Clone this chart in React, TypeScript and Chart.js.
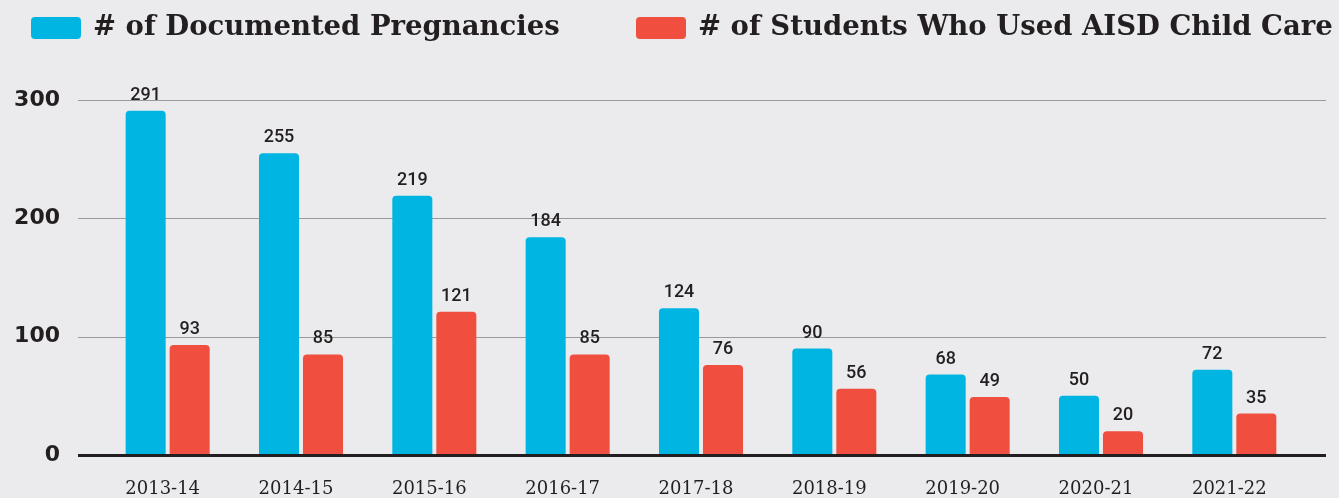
import React, { useEffect, useRef } from "react";
import { Chart, registerables } from "chart.js";

Chart.register(...registerables);

const categories = ["2013-14", "2014-15", "2015-16", "2016-17", "2017-18", "2018-19", "2019-20", "2020-21", "2021-22"];
const pregnancies = [291, 255, 219, 184, 124, 90, 68, 50, 72];
const childCare = [93, 85, 121, 85, 76, 56, 49, 20, 35];
const yTicks = [0, 100, 200, 300];
const seriesNames = ["# of Documented Pregnancies", "# of Students Who Used AISD Child Care"];

const BLUE = "#00b5e2";
const RED = "#f04e3e";
const INK = "#231f20";
const BG = "#ebebed";

const LEGEND_BOX_X = [31, 636];

const gridPlugin = {
  id: "customGrid",
  beforeDatasetsDraw(chart: any) {
    const { ctx, scales } = chart;
    const y = scales.y;
    ctx.save();
    yTicks.forEach((v) => {
      if (v === 0) return;
      const py = Math.round(y.getPixelForValue(v));
      ctx.beginPath();
      ctx.strokeStyle = "#9a9a9a";
      ctx.lineWidth = 1;
      ctx.moveTo(78, py + 0.5);
      ctx.lineTo(1326, py + 0.5);
      ctx.stroke();
    });
    ctx.restore();
  },
  afterDatasetsDraw(chart: any) {
    const { ctx, scales } = chart;
    const py = scales.y.getPixelForValue(0);
    ctx.save();
    ctx.beginPath();
    ctx.strokeStyle = INK;
    ctx.lineWidth = 3;
    ctx.moveTo(78, py + 0.5);
    ctx.lineTo(1326, py + 0.5);
    ctx.stroke();
    ctx.fillStyle = INK;
    ctx.font = "500 18px Roboto";
    ctx.textAlign = "center";
    ctx.textBaseline = "alphabetic";
    chart.data.datasets.forEach((ds: any, di: number) => {
      const meta = chart.getDatasetMeta(di);
      meta.data.forEach((bar: any, i: number) => {
        ctx.fillText(String(ds.data[i]), bar.x, bar.y - 11);
      });
    });
    ctx.restore();
  },
  afterDraw(chart: any) {
    const { ctx } = chart;
    ctx.save();
    chart.data.datasets.forEach((ds: any, di: number) => {
      const bx = LEGEND_BOX_X[di];
      ctx.fillStyle = ds.backgroundColor;
      ctx.beginPath();
      (ctx as any).roundRect(bx, 17, 50, 22, 4);
      ctx.fill();
      ctx.fillStyle = INK;
      ctx.font = "bold 27.5px 'DejaVu Serif'";
      ctx.textAlign = "left";
      ctx.textBaseline = "middle";
      ctx.fillText(ds.label, bx + 62, 28);
    });
    ctx.restore();
  },
};

export default function App() {
  const ref = useRef<HTMLCanvasElement>(null);
  useEffect(() => {
    document.body.style.margin = "0";
    document.body.style.background = BG;
    const barStyle = {
      borderRadius: { topLeft: 4, topRight: 4, bottomLeft: 0, bottomRight: 0 },
      borderSkipped: false,
      barPercentage: 0.91,
      categoryPercentage: 0.66,
    };
    const chart = new Chart(ref.current!, {
      type: "bar",
      data: {
        labels: categories,
        datasets: [
          { label: seriesNames[0], data: pregnancies, backgroundColor: BLUE, ...barStyle },
          { label: seriesNames[1], data: childCare, backgroundColor: RED, ...barStyle },
        ],
      },
      options: {
        responsive: true,
        maintainAspectRatio: false,
        animation: false,
        layout: { padding: { top: 100, left: 0, right: 0, bottom: 0 } },
        plugins: {
          tooltip: { enabled: false },
          legend: { display: false },
        },
        scales: {
          x: {
            grid: { display: false, drawTicks: false },
            border: { display: false },
            ticks: {
              color: INK,
              padding: 24,
              labelOffset: -5,
              font: { family: "DejaVu Serif", size: 18 },
            },
            afterFit(scale: any) {
              scale.height = 43;
            },
          },
          y: {
            min: 0,
            max: 300,
            grid: {
              display: true,
              drawOnChartArea: false,
              drawTicks: true,
              tickLength: 36,
              color: "rgba(0,0,0,0)",
            },
            border: { display: false },
            ticks: {
              stepSize: 100,
              color: INK,
              padding: 5,
              font: { family: "DejaVu Sans", weight: "bold", size: 22 },
            },
            afterFit(scale: any) {
              scale.width = 101;
            },
          },
          yr: {
            position: "right",
            min: 0,
            max: 300,
            grid: { display: false, drawTicks: false },
            border: { display: false },
            ticks: { display: false },
            afterFit(scale: any) {
              scale.width = 38;
            },
          },
        },
      },
      plugins: [gridPlugin],
    } as any);
    return () => chart.destroy();
  }, []);
  return (
    <div style={{ position: "relative", width: 1339, height: 498, background: BG }}>
      <canvas ref={ref} style={{ display: "block" }} />
    </div>
  );
}
